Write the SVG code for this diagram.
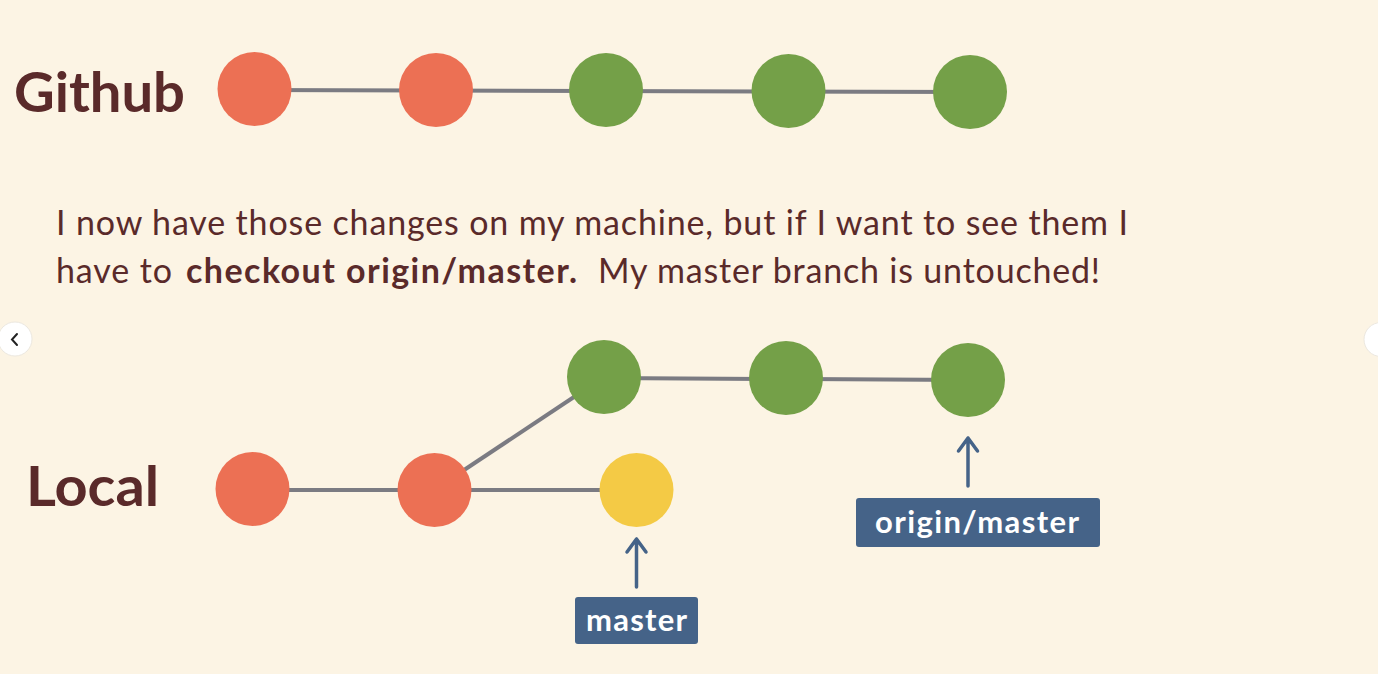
<svg xmlns="http://www.w3.org/2000/svg" width="1378" height="674" viewBox="0 0 1378 674">
  <defs>
    <style>
      .bg { fill: #fcf4e4; }
      .red { fill: #ec7054; }
      .green { fill: #74a048; }
      .yellow { fill: #f4ca45; }
      .edge { stroke: #7b7b82; stroke-width: 4; fill: none; }
      .ptr { stroke: #456388; stroke-width: 3.5; fill: none; stroke-linecap: round; stroke-linejoin: round; }
      .title { font-family: "Lato", "Liberation Sans", sans-serif; font-weight: 700; font-size: 56px; fill: #5a2a2a; }
      .para { font-family: "Lato", "Liberation Sans", sans-serif; font-size: 34px; fill: #5a2a2a; }
      .bold { font-weight: 700; }
      .box { fill: #456388; }
      .lbl { font-family: "Lato", "Liberation Sans", sans-serif; font-weight: 700; font-size: 31px; fill: #ffffff; }
      .nav { fill: #ffffff; stroke: #ece8e0; stroke-width: 1; }
    </style>
  </defs>
  <rect class="bg" x="0" y="0" width="1378" height="674"/>

  <!-- navigation buttons -->
  <circle class="nav" cx="15" cy="339" r="17"/>
  <path d="M17 334 L12 339.5 L17 345" stroke="#222" stroke-width="2" fill="none" stroke-linecap="round"/>
  <circle class="nav" cx="1381" cy="339.5" r="17"/>

  <text class="title" x="14" y="112" textLength="171" lengthAdjust="spacingAndGlyphs">Github</text>
  <text class="title" x="26" y="506" textLength="133" lengthAdjust="spacingAndGlyphs">Local</text>

  <g id="paragraph">
    <text class="para" x="56" y="235" textLength="1072">I now have those changes on my machine, but if I want to see them I</text>
    <text class="para" x="56" y="283" textLength="116">have to</text>
    <text class="para bold" x="186" y="283" textLength="391">checkout origin/master.</text>
    <text class="para" x="598" y="283" textLength="502">My master branch is untouched!</text>
  </g>

  <g id="connectors">
    <line class="edge" x1="255" y1="90" x2="970" y2="92"/>
    <line class="edge" x1="252" y1="490" x2="636" y2="490"/>
    <line class="edge" x1="434" y1="490" x2="604" y2="377"/>
    <line class="edge" x1="604" y1="378" x2="968" y2="380"/>
    <path class="ptr" d="M636.5 587 V539 M627 552 L636.5 539 L646 552"/>
    <path class="ptr" d="M968 486 V438 M958.5 451 L968 438 L977.5 451"/>
  </g>

  <g id="github-c1"><circle class="red" cx="254.5" cy="89" r="37"/></g>
  <g id="github-c2"><circle class="red" cx="436" cy="90" r="37"/></g>
  <g id="github-c3"><circle class="green" cx="606" cy="90" r="37"/></g>
  <g id="github-c4"><circle class="green" cx="788.5" cy="91" r="37"/></g>
  <g id="github-c5"><circle class="green" cx="970" cy="92" r="37"/></g>

  <g id="local-c1"><circle class="red" cx="252.5" cy="489" r="37"/></g>
  <g id="local-c2"><circle class="red" cx="434.5" cy="490" r="37"/></g>
  <g id="local-c3"><circle class="green" cx="604" cy="377" r="37"/></g>
  <g id="local-c4"><circle class="green" cx="786" cy="378" r="37"/></g>
  <g id="local-c5"><circle class="green" cx="968" cy="380" r="37"/></g>
  <g id="local-c6"><circle class="yellow" cx="636.5" cy="490" r="37"/></g>

  <g id="label-master">
    <rect class="box" x="575" y="597" width="123" height="47" rx="3"/>
    <text class="lbl" x="636.5" y="631" text-anchor="middle" textLength="101">master</text>
  </g>
  <g id="label-origin-master">
    <rect class="box" x="856" y="498" width="244" height="49" rx="3"/>
    <text class="lbl" x="977" y="533" text-anchor="middle" textLength="204">origin/master</text>
  </g>
</svg>
